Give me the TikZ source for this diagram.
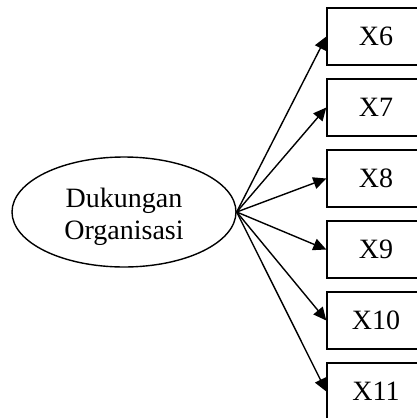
\documentclass[tikz,border=0pt]{standalone}
\usepackage{fontspec}
\setmainfont{Liberation Serif}
\usetikzlibrary{shapes.geometric,arrows.meta}

\def\boxW{98pt}
\def\boxH{57pt}

\begin{document}
\begin{tikzpicture}[x=1pt, y=-1pt, line width=1.4pt,
  every node/.style={font=\fontsize{28}{32}\selectfont},
  latent/.style={draw, ellipse, minimum width=224pt, minimum height=110pt, inner sep=0pt},
  indic/.style={draw, rectangle, minimum width=\boxW, minimum height=\boxH, inner sep=0pt},
  link/.style={-{Triangle[length=13pt,width=12pt]}}]
% Page frame, boxes run off the right and bottom edge
\useasboundingbox (0,0) rectangle (417,418);
\clip (0,0) rectangle (417,418);
% Latent variable
\node[latent, label={[align=center, yshift=-5pt]center:Dukungan\\Organisasi}] (dk) at (124,212) {};
% Indicators
\foreach \i in {6,...,11}
  \node[indic] (x\i) at (376,{36.5+71*(\i-6)}) {X\i};
% Loadings
\foreach \i in {6,...,11}
  \draw[link] (dk.east) -- (x\i.west);
\end{tikzpicture}
\end{document}
